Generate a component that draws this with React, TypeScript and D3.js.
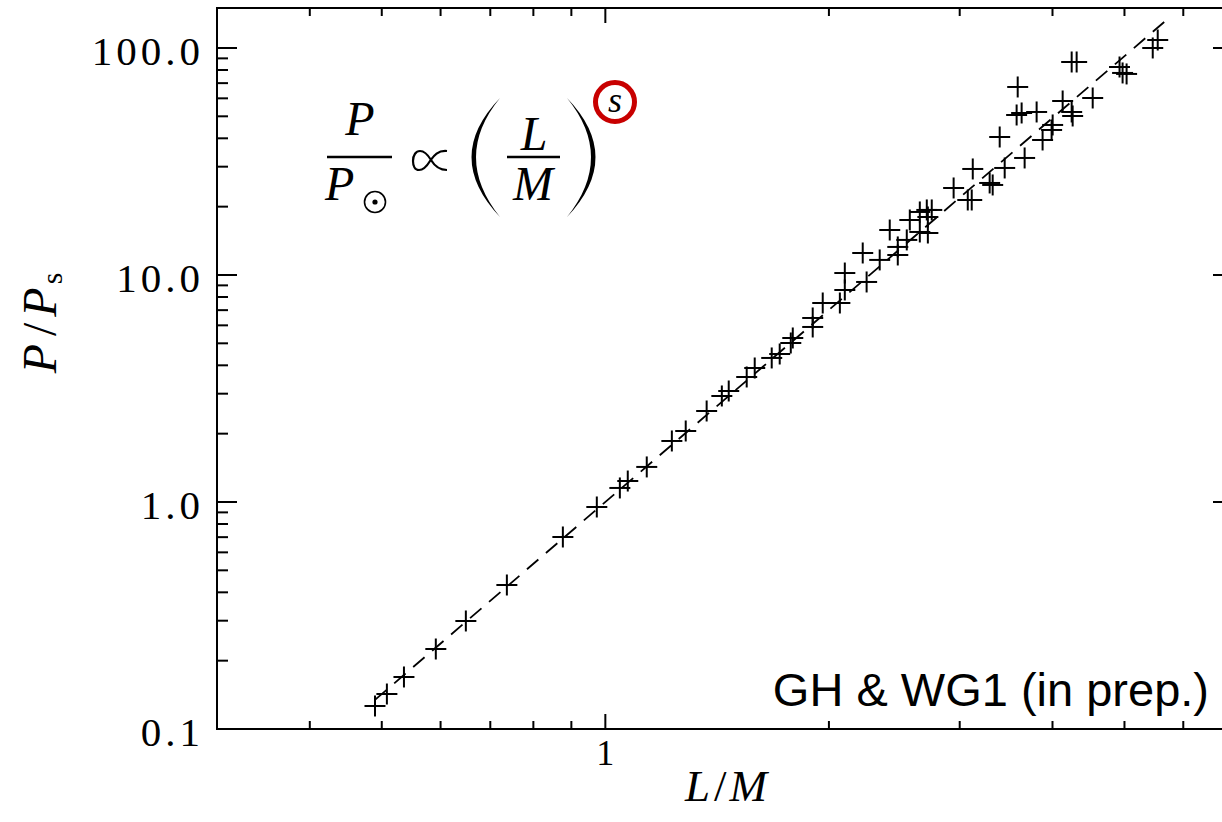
import React from 'react';
import * as d3 from 'd3';

// Canvas and plot box (right edge of the frame runs past the canvas)
const W = 1222;
const H = 822;
const PLOT = { left: 217, right: 1233, top: 8, bottom: 729 };

const xDomain: [number, number] = [0.3, 7];
const yDomain: [number, number] = [0.1, 150];

// Observed stars: luminosity-to-mass ratio vs. period ratio
const lumToMass = [
  0.4896, 0.508, 0.5356, 0.5912, 0.6489, 0.7369, 0.8766, 0.9739, 1.046, 1.072,
  1.137, 1.229, 1.283, 1.369, 1.435, 1.466, 1.55, 1.589, 1.675, 1.717,
  1.777, 1.788, 1.902, 1.902, 1.962, 2.069, 2.101, 2.101, 2.248, 2.221,
  2.341, 2.476, 2.476, 2.415, 2.546, 2.57, 2.651, 2.718, 2.651, 2.709,
  2.751, 2.718, 2.944, 3.124, 3.076, 3.114, 3.292, 3.323, 3.449, 3.396,
  3.669, 3.879, 3.989, 4.002, 3.579, 3.635, 3.808, 3.591, 4.128, 4.245,
  4.258, 4.245, 4.311, 4.531, 4.924, 4.971, 5.033, 5.458, 5.543,
];
const periodRatio = [
  0.1263, 0.1426, 0.1695, 0.2251, 0.2991, 0.4309, 0.7012, 0.9506, 1.153, 1.237,
  1.427, 1.857, 2.055, 2.517, 2.931, 3.083, 3.554, 3.893, 4.31, 4.487,
  5.017, 5.278, 5.902, 6.466, 7.527, 7.527, 8.589, 10.2, 9.316, 12.5,
  11.65, 12.25, 13.29, 15.78, 14.27, 17.47, 15.47, 15.31, 18.95, 19.34,
  19.34, 18.01, 24.17, 29.31, 21.4, 21.4, 25.43, 24.92, 29.61, 40.54,
  32.77, 39.33, 43.53, 45.8, 50.68, 51.72, 52.25, 67.33, 58.41, 52.25,
  50.17, 86.75, 86.75, 60.21, 82.45, 77.62, 76.84, 100.0, 108.4,
];

// Power-law fit P/Ps = A (L/M)^s
const fitCoefficient = 1.0;
const fitExponent = 2.81;
const fitRange: [number, number] = [0.49, 5.71];

const yTickValues = [0.1, 1, 10, 100];
const yTickLabels = ['0.1', '1.0', '10.0', '100.0'];
const xTickValues = [1];
const xTickLabels = ['1'];
const creditText = 'GH & WG1 (in prep.)';

const SERIF = '"Liberation Serif", "DejaVu Serif", serif';
const SANS = '"Liberation Sans", Arial, sans-serif';

export default function App() {
  const x = d3.scaleLog().domain(xDomain).range([PLOT.left, PLOT.right]);
  const y = d3.scaleLog().domain(yDomain).range([PLOT.bottom, PLOT.top]);

  const isMajor = (v: number) => Math.abs(Math.log10(v) - Math.round(Math.log10(v))) < 1e-9;
  const xMinor = x.ticks().filter((v) => !isMajor(v));
  const yMinor = y.ticks().filter((v) => !isMajor(v));

  const fitLine = d3
    .line<number>()
    .x((d) => x(d))
    .y((d) => y(fitCoefficient * Math.pow(d, fitExponent)));

  const points = lumToMass.map((lm, i) => ({ lm, p: periodRatio[i] }));
  const arm = 10.5;

  return (
    <svg
      width={W}
      height={H}
      viewBox={`0 0 ${W} ${H}`}
      style={{ position: 'absolute', left: 0, top: 0, background: '#fff' }}
    >
      <rect x={0} y={0} width={W} height={H} fill="#fff" />

      {/* frame */}
      <rect
        x={PLOT.left}
        y={PLOT.top}
        width={PLOT.right - PLOT.left}
        height={PLOT.bottom - PLOT.top}
        fill="none"
        stroke="#000"
        strokeWidth={2}
      />

      {/* y ticks, both sides */}
      <g stroke="#000" strokeWidth={2}>
        {yTickValues.map((v) => (
          <g key={`ym${v}`}>
            <line x1={PLOT.left} x2={PLOT.left + 20} y1={y(v)} y2={y(v)} />
            <line x1={PLOT.right} x2={PLOT.right - 20} y1={y(v)} y2={y(v)} />
          </g>
        ))}
        {yMinor.map((v) => (
          <g key={`yn${v}`}>
            <line x1={PLOT.left} x2={PLOT.left + 11} y1={y(v)} y2={y(v)} />
            <line x1={PLOT.right} x2={PLOT.right - 11} y1={y(v)} y2={y(v)} />
          </g>
        ))}
      </g>

      {/* x ticks, both sides */}
      <g stroke="#000" strokeWidth={2}>
        {xTickValues.map((v) => (
          <g key={`xm${v}`}>
            <line x1={x(v)} x2={x(v)} y1={PLOT.bottom} y2={PLOT.bottom - 15} />
            <line x1={x(v)} x2={x(v)} y1={PLOT.top} y2={PLOT.top + 15} />
          </g>
        ))}
        {xMinor.map((v) => (
          <g key={`xn${v}`}>
            <line x1={x(v)} x2={x(v)} y1={PLOT.bottom} y2={PLOT.bottom - 8} />
            <line x1={x(v)} x2={x(v)} y1={PLOT.top} y2={PLOT.top + 8} />
          </g>
        ))}
      </g>

      {/* tick labels */}
      <g fontFamily={SERIF} fontSize={41} fill="#000" letterSpacing={4}>
        {yTickValues.map((v, i) => (
          <text key={`yl${v}`} x={204} y={y(v) + 17} textAnchor="end">
            {yTickLabels[i]}
          </text>
        ))}
      </g>
      <g fontFamily={SERIF} fontSize={36} fill="#000">
        {xTickValues.map((v, i) => (
          <text key={`xl${v}`} x={x(v)} y={765} textAnchor="middle">
            {xTickLabels[i]}
          </text>
        ))}
      </g>

      {/* axis titles */}
      <text x={726} y={801} textAnchor="middle" fontFamily={SERIF} fontSize={45} fontStyle="italic">
        <tspan>L</tspan>
        <tspan fontStyle="normal" dx={4}>/</tspan>
        <tspan dx={3}>M</tspan>
      </text>
      <text
        transform="translate(56,323) rotate(-90)"
        textAnchor="middle"
        fontFamily={SERIF}
        fontSize={48}
        fontStyle="italic"
      >
        <tspan>P</tspan>
        <tspan fontStyle="normal" dx={8}>/</tspan>
        <tspan dx={6}>P</tspan>
        <tspan fontStyle="normal" fontSize={30} dx={3} dy={6}>s</tspan>
      </text>

      {/* power-law fit */}
      <path
        d={fitLine(fitRange) ?? ''}
        fill="none"
        stroke="#000"
        strokeWidth={1.8}
        strokeDasharray="15 10"
      />

      {/* data markers */}
      <g stroke="#000" strokeWidth={2}>
        {points.map((d, i) => {
          const cx = x(d.lm);
          const cy = y(d.p);
          return (
            <g key={i}>
              <line x1={cx - arm} x2={cx + arm} y1={cy} y2={cy} />
              <line x1={cx} x2={cx} y1={cy - arm} y2={cy + arm} />
            </g>
          );
        })}
      </g>

      {/* credit */}
      <text x={1209} y={706} textAnchor="end" fontFamily={SANS} fontSize={47} fill="#000">
        {creditText}
      </text>

      {/* P / P_sun ∝ (L / M)^s */}
      <g fill="#000" fontFamily={SERIF}>
        <text x={360} y={135} textAnchor="middle" fontSize={48} fontStyle="italic">P</text>
        <line x1={327} x2={392} y1={157} y2={157} stroke="#000" strokeWidth={2.5} />
        <text x={325} y={200} fontSize={48} fontStyle="italic">P</text>
        <circle cx={375} cy={202} r={10.5} fill="none" stroke="#000" strokeWidth={1.6} />
        <circle cx={375} cy={202} r={2.6} fill="#000" />
        <path
          d="M 447 151 C 437 150 433 157 430 161 C 427 166 424 170 419 170 C 415 170 413 166 413 161 C 413 155 416 151 420 151 C 425 151 428 155 431 160 C 434 165 438 170 447 170"
          fill="none"
          stroke="#000"
          strokeWidth={2.2}
        />
        <path d="M 500 98 Q 443 157 500 217 Q 452 157 500 98 Z" />
        <text x={534} y={150} textAnchor="middle" fontSize={48} fontStyle="italic">L</text>
        <line x1={507} x2={560} y1={157} y2={157} stroke="#000" strokeWidth={2.5} />
        <text x={533} y={200} textAnchor="middle" fontSize={48} fontStyle="italic">M</text>
        <path d="M 567 98 Q 624 157 567 217 Q 615 157 567 98 Z" />
        <circle cx={615} cy={102} r={19.5} fill="none" stroke="#c80000" strokeWidth={5} />
        <text x={615} y={112} textAnchor="middle" fontSize={36} fontStyle="italic">s</text>
      </g>
    </svg>
  );
}
